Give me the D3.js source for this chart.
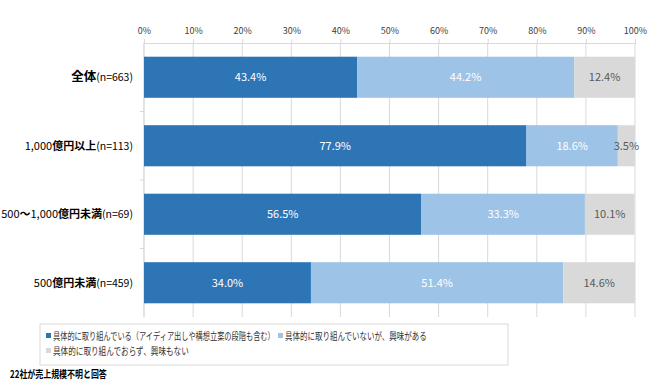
<!DOCTYPE html>
<html>
<head>
<meta charset="utf-8">
<script src="https://cdn.jsdelivr.net/npm/d3@7"></script>
<style>
  body { margin: 0; background: #fff; }
  text { font-family: "Noto Sans CJK JP", "Noto Sans", sans-serif; }
</style>
</head>
<body>
<div class="chart"></div>
<script>
// categories and values (percent)
var categories = ["全体", "1,000億円以上", "500〜1,000億円未満", "500億円未満"];
var counts = [663, 113, 69, 459];
var doing = [43.4, 77.9, 56.5, 34.0];
var interested = [44.2, 18.6, 33.3, 51.4];
var notInterested = [12.4, 3.5, 10.1, 14.6];
var seriesNames = [
  "具体的に取り組んでいる（アイディア出しや構想立案の段階も含む）",
  "具体的に取り組んでいないが、興味がある",
  "具体的に取り組んでおらず、興味もない"
];
var tickValues = [0, 10, 20, 30, 40, 50, 60, 70, 80, 90, 100];
var note = "22社が売上規模不明と回答";

var colors = ["#2E75B6", "#9DC3E6", "#D9D9D9"];
var labelColors = ["#ffffff", "#ffffff", "#595959"];

var svgWidth = 652, svgHeight = 385;
var margin = { top: 43, left: 144, right: 17, bottom: 68 };
var width = svgWidth - margin.left - margin.right;
var height = svgHeight - margin.top - margin.bottom;

var svg = d3.select(".chart").append("svg")
  .attr("width", svgWidth)
  .attr("height", svgHeight);

var chartGroup = svg.append("g")
  .attr("transform", `translate(${margin.left}, ${margin.top})`);

var xScale = d3.scaleLinear().domain([0, 100]).range([0, width]);
var yScale = d3.scaleBand().domain(categories).range([0, height])
  .paddingInner(0.4).paddingOuter(0.2);

// gridlines
chartGroup.selectAll(".grid")
  .data(tickValues)
  .enter()
  .append("line")
  .attr("x1", d => xScale(d))
  .attr("x2", d => xScale(d))
  .attr("y1", 0)
  .attr("y2", height)
  .attr("stroke", "#d9d9d9")
  .attr("stroke-width", 1);

// top axis
var xAxis = d3.axisTop(xScale).tickValues(tickValues).tickFormat(d => d + "%").tickSize(4);
var xg = chartGroup.append("g").call(xAxis);
xg.select(".domain").attr("stroke", "#d9d9d9");
xg.selectAll(".tick line").attr("stroke", "#d9d9d9");
xg.selectAll(".tick text")
  .attr("font-size", "9px")
  .attr("fill", "#404040")
  .attr("y", -9);

// left axis line + category separators
chartGroup.append("line")
  .attr("x1", 0).attr("x2", 0).attr("y1", 0).attr("y2", height)
  .attr("stroke", "#d9d9d9");
var step = yScale.step();
chartGroup.selectAll(".sep")
  .data(categories.slice(1))
  .enter()
  .append("line")
  .attr("x1", -4).attr("x2", 0)
  .attr("y1", d => yScale(d) - step * 0.2)
  .attr("y2", d => yScale(d) - step * 0.2)
  .attr("stroke", "#d9d9d9");

// stacked data
var rows = categories.map(function(c, i) {
  return { cat: c, vals: [doing[i], interested[i], notInterested[i]] };
});

rows.forEach(function(row) {
  var start = 0;
  row.vals.forEach(function(v, j) {
    var x0 = xScale(start), x1 = xScale(start + v);
    chartGroup.append("rect")
      .attr("x", x0)
      .attr("y", yScale(row.cat))
      .attr("width", x1 - x0)
      .attr("height", yScale.bandwidth())
      .attr("fill", colors[j]);
    chartGroup.append("text")
      .attr("x", (x0 + x1) / 2)
      .attr("y", yScale(row.cat) + yScale.bandwidth() / 2 + 4)
      .attr("text-anchor", "middle")
      .attr("font-size", "11px")
      .attr("fill", labelColors[j])
      .text(v.toFixed(1) + "%");
    start += v;
  });
});

// category labels: kanji bold, digits normal, (n=..) smaller
categories.forEach(function(c, i) {
  var t = chartGroup.append("text")
    .attr("x", -11)
    .attr("y", yScale(c) + yScale.bandwidth() / 2 + 4)
    .attr("text-anchor", "end")
    .attr("fill", "#000");
  var parts = c.match(/[0-9,]+|[^0-9,]+/g);
  parts.forEach(function(p) {
    var isNum = /^[0-9,]+$/.test(p);
    t.append("tspan")
      .attr("font-size", i == 0 ? "12.5px" : "11px")
      .attr("font-weight", isNum ? "normal" : "bold")
      .text(p);
  });
  t.append("tspan")
    .attr("font-size", "10.5px")
    .text("(n=" + counts[i] + ")");
});

// squeeze a text horizontally so it takes the given width
function fitWidth(g, txt, w) {
  var natural = txt.node().getComputedTextLength();
  var s = Math.min(1, w / natural);
  g.attr("transform", g.attr("transform") + ` scale(${s},1)`);
}

// legend
var legend = svg.append("g");
legend.append("rect")
  .attr("x", 40).attr("y", 324)
  .attr("width", 468).attr("height", 41)
  .attr("fill", "#fff")
  .attr("stroke", "#d9d9d9");

var legendPos = [[46, 339, 222], [278, 339, 142], [46, 354, 136]];
seriesNames.forEach(function(name, i) {
  legend.append("rect")
    .attr("x", legendPos[i][0])
    .attr("y", legendPos[i][1] - 6)
    .attr("width", 5).attr("height", 5)
    .attr("fill", colors[i]);
  var g = legend.append("g")
    .attr("transform", `translate(${legendPos[i][0] + 7}, ${legendPos[i][1] + 0.5})`);
  var t = g.append("text")
    .attr("font-size", "10px")
    .attr("fill", "#333")
    .text(name);
  fitWidth(g, t, legendPos[i][2]);
});

// note
var ng = svg.append("g").attr("transform", "translate(10, 377.5)");
var nt = ng.append("text")
  .attr("font-size", "10.5px")
  .attr("font-weight", "bold")
  .attr("fill", "#000")
  .text(note);
fitWidth(ng, nt, 97);
</script>
</body>
</html>
